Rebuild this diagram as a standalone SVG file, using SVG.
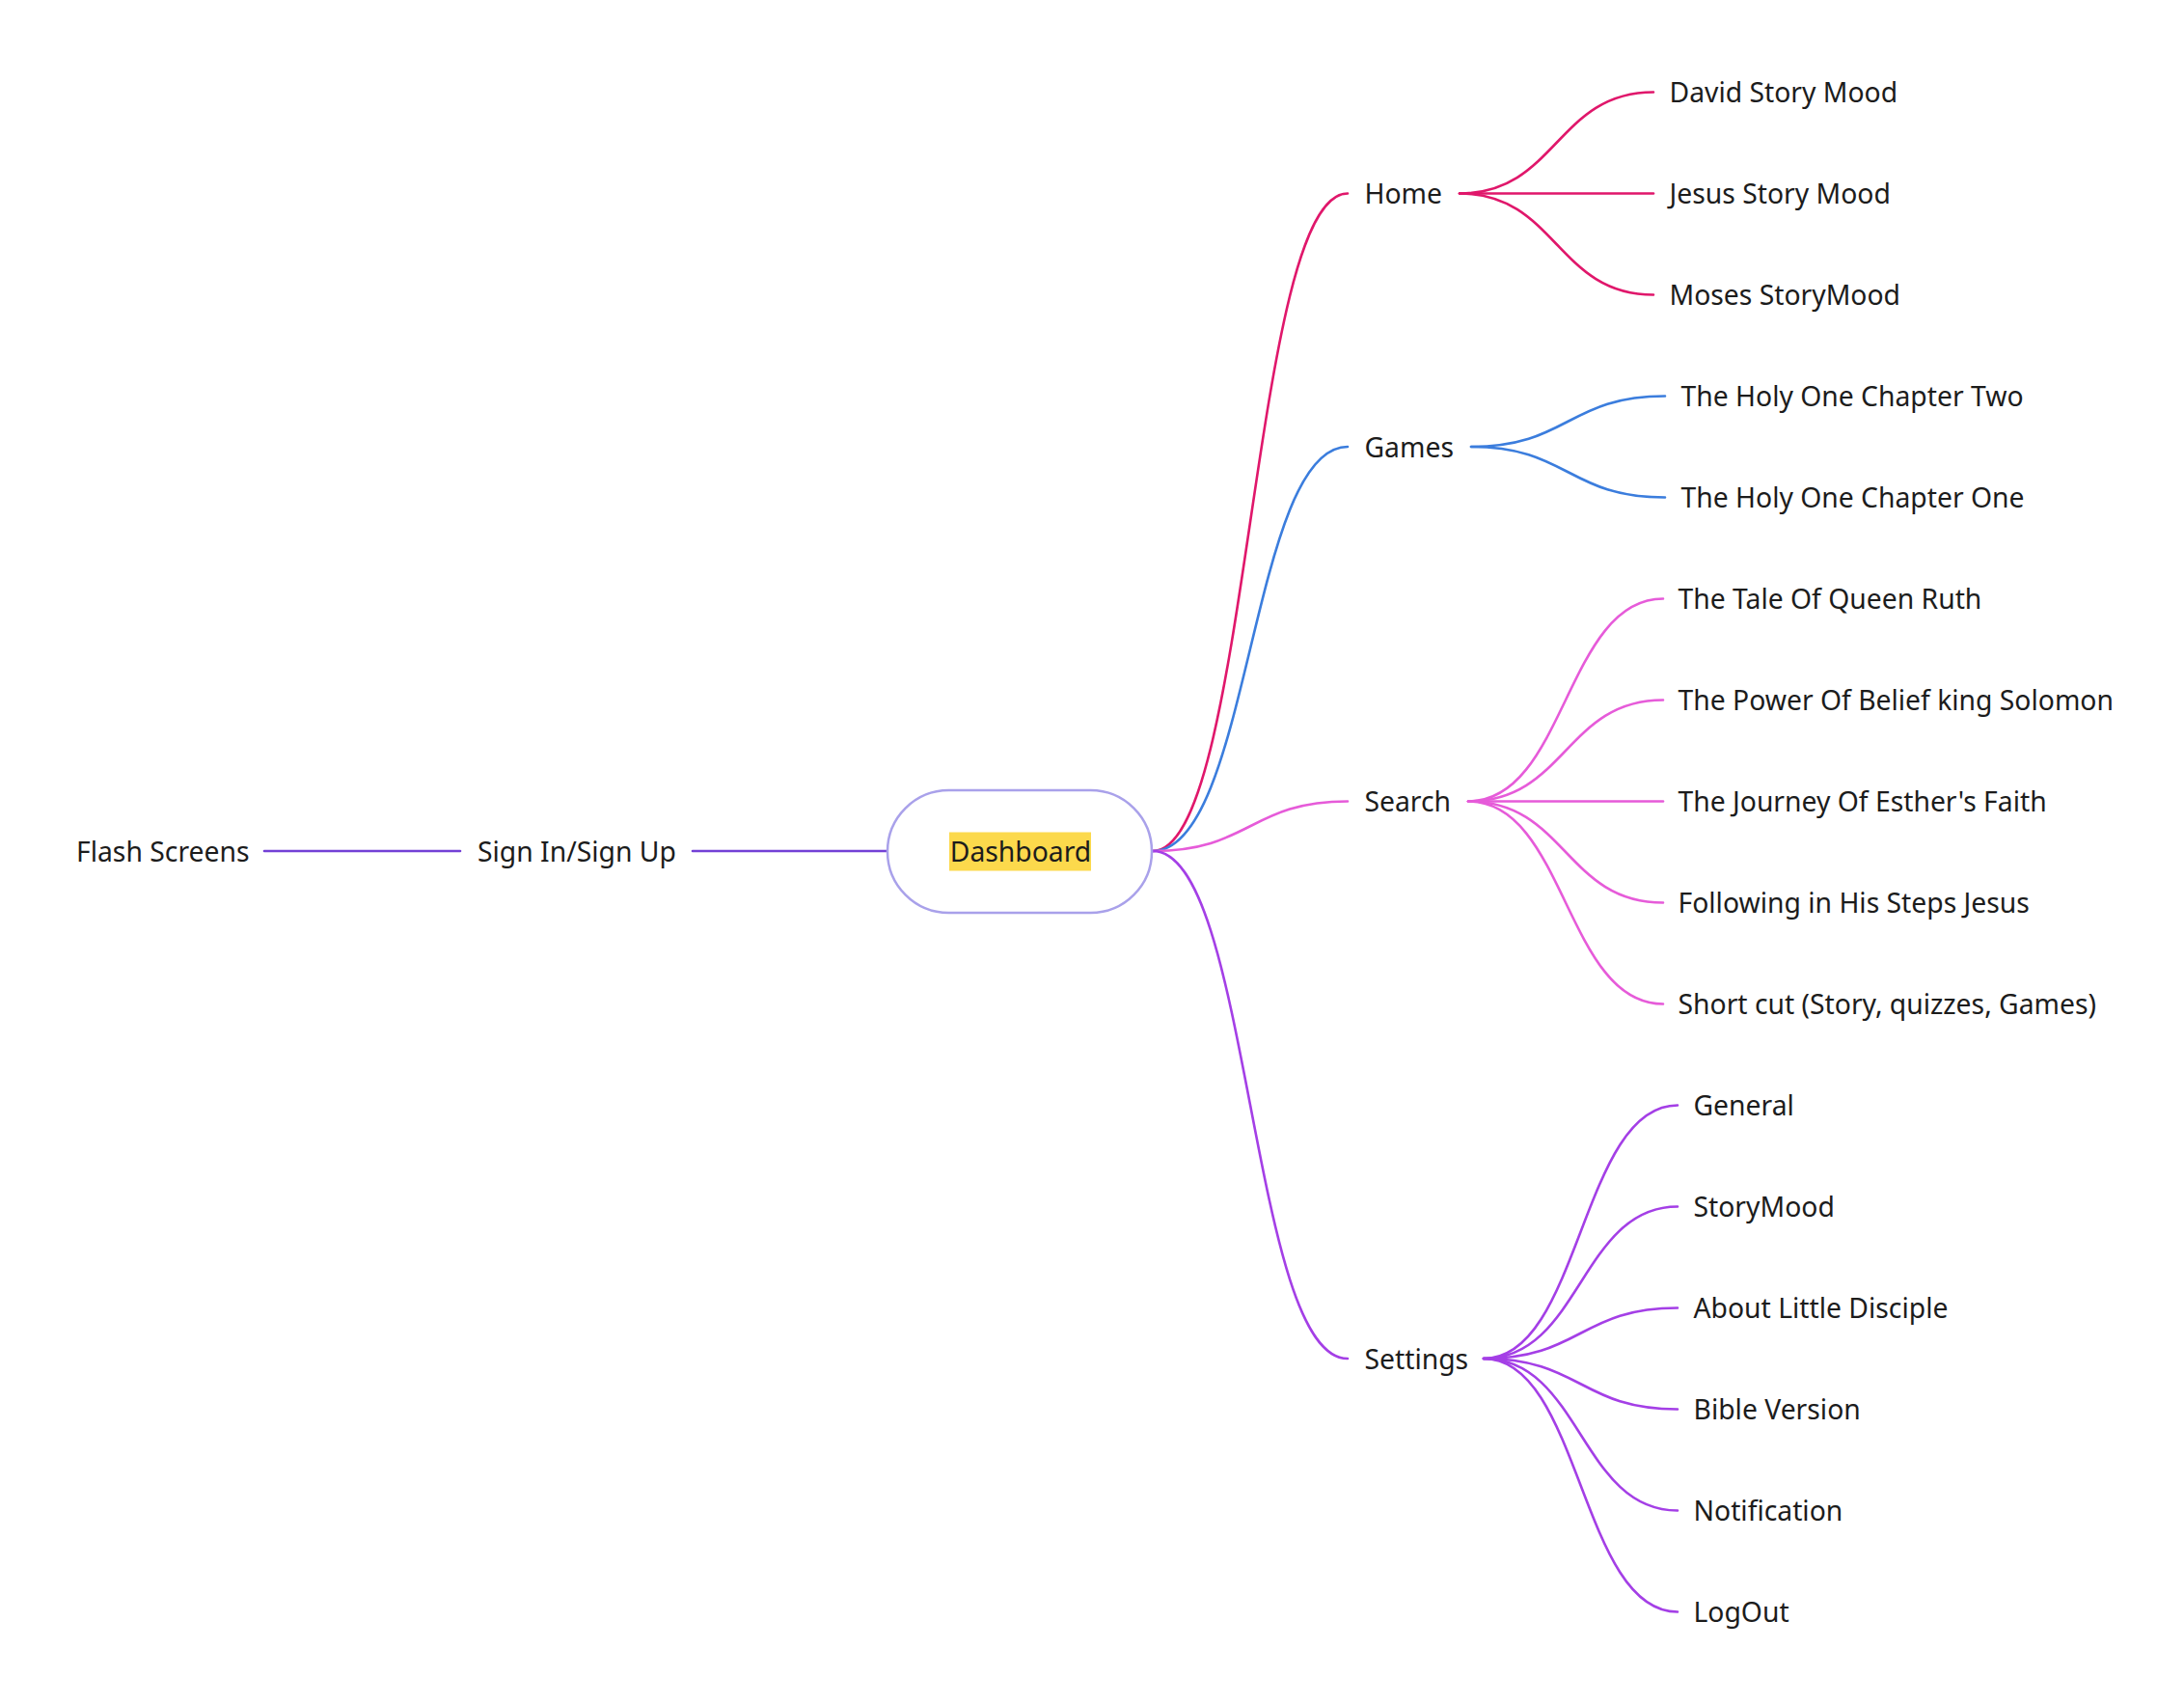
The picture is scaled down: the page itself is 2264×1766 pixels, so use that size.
<svg xmlns="http://www.w3.org/2000/svg" width="2264" height="1766" viewBox="0 0 2264 1766">
<style>
text{font-family:"Noto Sans","Open Sans","DejaVu Sans",sans-serif;font-size:28.3px;fill:#1c1c1c}
.c{fill:none;stroke-width:2.6;stroke-linecap:round}
.root{stroke:#7340d6}
.home{stroke:#e0176b}
.games{stroke:#3b7ddd}
.search{stroke:#e65bd9}
.settings{stroke:#a43fe6}
</style>
<rect width="2264" height="1766" fill="#ffffff"/>
<g id="connectors">
<path class="c root" d="M274,882 H477"/>
<path class="c root" d="M718,882 H920"/>
<path class="c home" d="M1195,882 C1296,882 1296,200.5 1397,200.5"/>
<path class="c games" d="M1195,882 C1296,882 1296,463 1397,463"/>
<path class="c search" d="M1195,882 C1296,882 1296,830.5 1397,830.5"/>
<path class="c settings" d="M1195,882 C1296,882 1296,1408 1397,1408"/>
<path class="c home" d="M1513,200.5 C1613.5,200.5 1613.5,95.5 1714,95.5"/>
<path class="c home" d="M1513,200.5 H1714"/>
<path class="c home" d="M1513,200.5 C1613.5,200.5 1613.5,305.5 1714,305.5"/>
<path class="c games" d="M1525,463 C1625.5,463 1625.5,410.5 1726,410.5"/>
<path class="c games" d="M1525,463 C1625.5,463 1625.5,515.5 1726,515.5"/>
<path class="c search" d="M1522,830.5 C1623,830.5 1623,620.5 1724,620.5"/>
<path class="c search" d="M1522,830.5 C1623,830.5 1623,725.5 1724,725.5"/>
<path class="c search" d="M1522,830.5 H1724"/>
<path class="c search" d="M1522,830.5 C1623,830.5 1623,935.5 1724,935.5"/>
<path class="c search" d="M1522,830.5 C1623,830.5 1623,1040.5 1724,1040.5"/>
<path class="c settings" d="M1538,1408 C1638.5,1408 1638.5,1145.5 1739,1145.5"/>
<path class="c settings" d="M1538,1408 C1638.5,1408 1638.5,1250.5 1739,1250.5"/>
<path class="c settings" d="M1538,1408 C1638.5,1408 1638.5,1355.5 1739,1355.5"/>
<path class="c settings" d="M1538,1408 C1638.5,1408 1638.5,1460.5 1739,1460.5"/>
<path class="c settings" d="M1538,1408 C1638.5,1408 1638.5,1565.5 1739,1565.5"/>
<path class="c settings" d="M1538,1408 C1638.5,1408 1638.5,1670.5 1739,1670.5"/>
</g>
<g id="node-flash"><text x="79" y="892.5">Flash Screens</text></g>
<g id="node-signin"><text x="495" y="892.5">Sign In/Sign Up</text></g>
<g id="node-dashboard">
<rect x="920" y="819" width="274" height="127" rx="63.5" fill="#ffffff" stroke="#a9a1ea" stroke-width="2.5"/>
<rect x="984" y="862.5" width="147" height="40" fill="#fcd94c"/>
<text x="1058" y="892.5" text-anchor="middle">Dashboard</text>
</g>
<g id="node-home"><text x="1414.5" y="211">Home</text></g>
<g id="node-games"><text x="1414.5" y="473.5">Games</text></g>
<g id="node-search"><text x="1414.5" y="841">Search</text></g>
<g id="node-settings"><text x="1414.5" y="1418.5">Settings</text></g>
<g id="node-david"><text x="1730.5" y="106">David Story Mood</text></g>
<g id="node-jesus"><text x="1730.5" y="211">Jesus Story Mood</text></g>
<g id="node-moses"><text x="1730.5" y="316">Moses StoryMood</text></g>
<g id="node-ch2"><text x="1742.5" y="421">The Holy One Chapter Two</text></g>
<g id="node-ch1"><text x="1742.5" y="526">The Holy One Chapter One</text></g>
<g id="node-ruth"><text x="1739.5" y="631">The Tale Of Queen Ruth</text></g>
<g id="node-solomon"><text x="1739.5" y="736">The Power Of Belief king Solomon</text></g>
<g id="node-esther"><text x="1739.5" y="841">The Journey Of Esther's Faith</text></g>
<g id="node-following"><text x="1739.5" y="946">Following in His Steps Jesus</text></g>
<g id="node-shortcut"><text x="1739.5" y="1051">Short cut (Story, quizzes, Games)</text></g>
<g id="node-general"><text x="1755.5" y="1156">General</text></g>
<g id="node-storymood"><text x="1755.5" y="1261">StoryMood</text></g>
<g id="node-about"><text x="1755.5" y="1366">About Little Disciple</text></g>
<g id="node-bible"><text x="1755.5" y="1471">Bible Version</text></g>
<g id="node-notification"><text x="1755.5" y="1576">Notification</text></g>
<g id="node-logout"><text x="1755.5" y="1681">LogOut</text></g>
</svg>
